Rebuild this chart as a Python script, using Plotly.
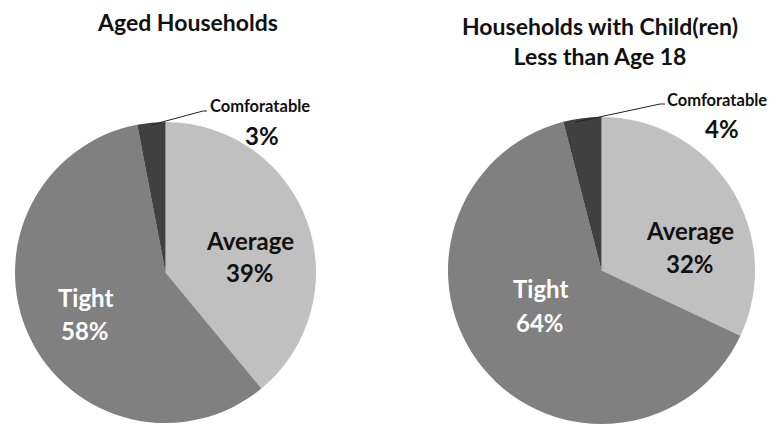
import plotly.graph_objects as go

categories = ["Average", "Tight", "Comforatable"]
aged_values = [39, 58, 3]
child_values = [32, 64, 4]
titles = ["Aged Households", "Households with Child(ren)<br>Less than Age 18"]
colors = ["#c0c0c0", "#808080", "#404040"]

# the page body has an 8px default margin; the figure is sized to fit the 779x425 window
OFF = 8
W, H = 779 - OFF, 425 - OFF
FONT = "Lato"

def px(x):
    return (x - OFF) / W

def py(y):
    return 1 - (y - OFF) / H

fig = go.Figure()
fig.add_trace(go.Pie(
    labels=categories, values=aged_values, sort=False, direction="clockwise", rotation=0,
    marker=dict(colors=colors, line=dict(width=0)), textinfo="none", hoverinfo="label+percent",
    domain=dict(x=[px(15), px(316)], y=[py(423), py(122)]), showlegend=False,
))
fig.add_trace(go.Pie(
    labels=categories, values=child_values, sort=False, direction="clockwise", rotation=0,
    marker=dict(colors=colors, line=dict(width=0)), textinfo="none", hoverinfo="label+percent",
    domain=dict(x=[px(448), px(755)], y=[py(424), py(117)]), showlegend=False,
))

ann = []
def txt(t, x, y, size, color="#111111"):
    ann.append(dict(text="<b>%s</b>" % t, x=px(x), y=py(y), xref="paper", yref="paper",
                    showarrow=False, xanchor="center", yanchor="middle",
                    font=dict(family=FONT, size=size, color=color)))

# titles
txt(titles[0], 187, 22, 23)
ann.append(dict(text="<b>%s</b>" % titles[1], x=px(600), y=py(41), xref="paper", yref="paper",
                showarrow=False, xanchor="center", yanchor="middle",
                font=dict(family=FONT, size=23, color="#111111")))

# left pie labels
txt(categories[0], 250, 240, 24)
txt("%d%%" % aged_values[0], 250, 272, 24)
txt(categories[1], 85, 297, 24, "white")
txt("%d%%" % aged_values[1], 85, 330, 24, "white")
txt(categories[2], 260, 106, 16.5)
txt("%d%%" % aged_values[2], 262, 135, 24)

# right pie labels
txt(categories[0], 690, 230, 24)
txt("%d%%" % child_values[0], 690, 264, 24)
txt(categories[1], 540, 288, 24, "white")
txt("%d%%" % child_values[1], 540, 322, 24, "white")
txt(categories[2], 717, 100, 16.5)
txt("%d%%" % child_values[2], 722, 129, 24)

shapes = [
    dict(type="path", xref="paper", yref="paper",
         path="M %f %f L %f %f L %f %f" % (px(151), py(125), px(203), py(111), px(207), py(111)),
         line=dict(color="#222222", width=1)),
    dict(type="path", xref="paper", yref="paper",
         path="M %f %f L %f %f L %f %f" % (px(576), py(122), px(660), py(104), px(665), py(104)),
         line=dict(color="#222222", width=1)),
]

fig.update_layout(
    width=W, height=H, margin=dict(l=0, r=0, t=0, b=0),
    paper_bgcolor="white", plot_bgcolor="white",
    annotations=ann, shapes=shapes,
)
fig.write_html("out.html")
